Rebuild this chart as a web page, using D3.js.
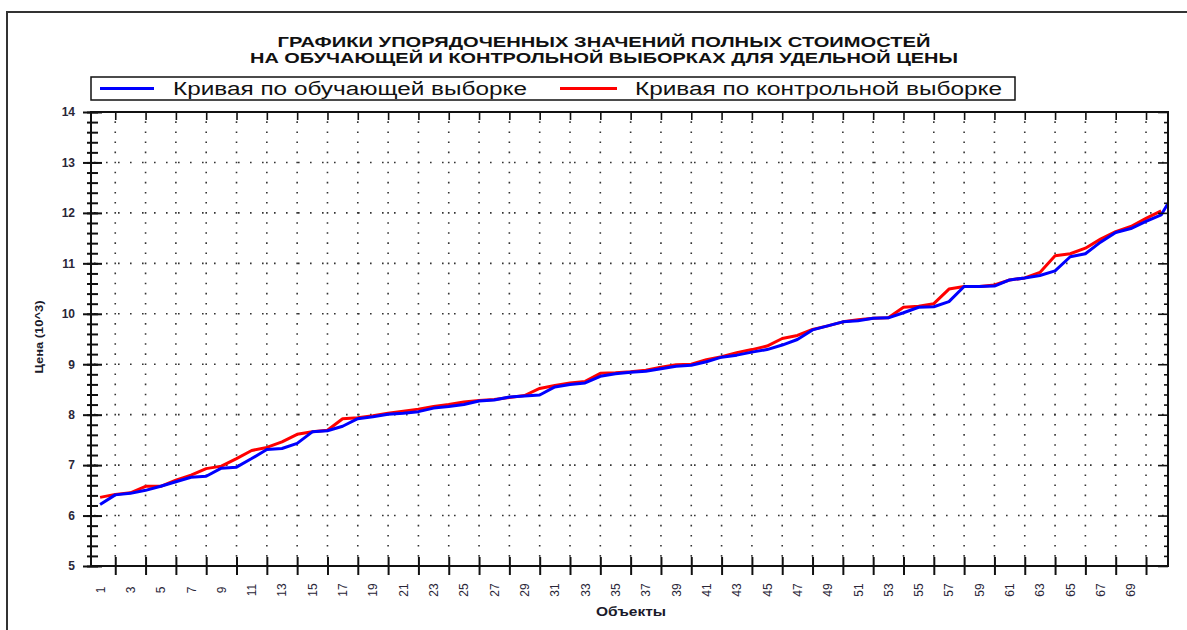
<!DOCTYPE html>
<html>
<head>
<meta charset="utf-8">
<script src="https://cdn.jsdelivr.net/npm/d3@7"></script>
<style>
  html, body { margin: 0; padding: 0; background: #fff; }
  svg { display: block; }
</style>
</head>
<body>
<svg id="chart" width="1187" height="630"></svg>
<script>
// Sorted full-cost values (thousands) for the training and control samples
const trainValues = [
  6.22, 6.41, 6.44, 6.50, 6.58, 6.67, 6.76, 6.78, 6.94, 6.96,
  7.13, 7.31, 7.33, 7.43, 7.66, 7.68, 7.77, 7.92, 7.96, 8.01,
  8.03, 8.06, 8.13, 8.16, 8.20, 8.27, 8.29, 8.35, 8.37, 8.39,
  8.55, 8.60, 8.63, 8.76, 8.81, 8.84, 8.86, 8.91, 8.96, 8.98,
  9.05, 9.14, 9.18, 9.24, 9.29, 9.38, 9.49, 9.68, 9.76, 9.84,
  9.86, 9.91, 9.92, 10.02, 10.13, 10.14, 10.24, 10.54, 10.54, 10.55,
  10.67, 10.71, 10.76, 10.85, 11.13, 11.19, 11.42, 11.61, 11.69, 11.83,
  11.96, 12.47
];
const controlValues = [
  6.36, 6.42, 6.45, 6.58, 6.58, 6.70, 6.80, 6.93, 6.98, 7.13,
  7.29, 7.35, 7.46, 7.61, 7.66, 7.69, 7.92, 7.94, 7.98, 8.03,
  8.07, 8.11, 8.16, 8.20, 8.25, 8.28, 8.30, 8.34, 8.38, 8.52,
  8.58, 8.63, 8.66, 8.82, 8.83, 8.85, 8.88, 8.94, 8.99, 9.00,
  9.09, 9.15, 9.23, 9.29, 9.36, 9.51, 9.57, 9.69, 9.76, 9.84,
  9.88, 9.91, 9.92, 10.13, 10.15, 10.20, 10.49, 10.54, 10.54, 10.57,
  10.67, 10.71, 10.82, 11.15, 11.19, 11.30, 11.48, 11.63, 11.73, 11.89,
  12.04
];
const xTickLabels = ["1","3","5","7","9","11","13","15","17","19","21","23","25","27","29",
  "31","33","35","37","39","41","43","45","47","49","51","53","55","57","59",
  "61","63","65","67","69"];
const xTickMarks = [2,4,6,8,10,12,14,16,18,20,22,24,26,28,30,32,34,36,38,40,
  42,44,46,48,50,52,54,56,58,60,62,64,66,68,70];
const yMajorTicks = [5,6,7,8,9,10,11,12,13,14];
const titleLines = [
  "ГРАФИКИ УПОРЯДОЧЕННЫХ ЗНАЧЕНИЙ ПОЛНЫХ СТОИМОСТЕЙ",
  "НА ОБУЧАЮЩЕЙ И КОНТРОЛЬНОЙ ВЫБОРКАХ ДЛЯ УДЕЛЬНОЙ ЦЕНЫ"
];
const seriesNames = ["Кривая по обучающей выборке", "Кривая по контрольной выборке"];
const seriesColors = ["#0000ff", "#ff0000"];
const xTitle = "Объекты";
const yTitle = "Цена (10^3)";

const svg = d3.select("#chart");
const plotLeft = 91, plotRight = 1168, plotTop = 112, plotBottom = 566;

const x = d3.scaleLinear().domain([0.4, 71.45]).range([plotLeft, plotRight]);
const y = d3.scaleLinear().domain([5, 14]).range([plotBottom, plotTop]);
const yMinor = d3.range(5, 14.001, 0.2).map(v => +v.toFixed(1));
const minorStep = y(5) - y(5.2);

// outer frame
svg.append("path").attr("d", "M7,630V12H1187")
  .attr("fill", "none").attr("stroke", "#333").attr("stroke-width", 2);

// title
svg.selectAll("text.title").data(titleLines).join("text")
  .attr("class", "title")
  .attr("x", 604).attr("y", (d, i) => 47 + i * 16)
  .attr("text-anchor", "middle")
  .attr("textLength", (d, i) => i === 0 ? 653 : 708)
  .attr("lengthAdjust", "spacingAndGlyphs")
  .style("font", "bold 14px 'Liberation Sans', Arial, sans-serif")
  .attr("fill", "#111")
  .text(d => d);

// legend
const legend = svg.append("g");
legend.append("rect").attr("x", 91).attr("y", 77).attr("width", 924).attr("height", 23)
  .attr("fill", "#fff").attr("stroke", "#111").attr("stroke-width", 1.5);
const legendItems = [
  { name: seriesNames[0], color: seriesColors[0], x0: 100, x1: 154, tx: 173, tl: 354 },
  { name: seriesNames[1], color: seriesColors[1], x0: 560, x1: 617, tx: 635, tl: 367 }
];
legendItems.forEach(it => {
  legend.append("line").attr("x1", it.x0).attr("x2", it.x1).attr("y1", 88.5).attr("y2", 88.5)
    .attr("stroke", it.color).attr("stroke-width", 3);
  legend.append("text").attr("x", it.tx).attr("y", 95)
    .attr("textLength", it.tl).attr("lengthAdjust", "spacingAndGlyphs")
    .style("font", "18px 'Liberation Sans', Arial, sans-serif").attr("fill", "#111")
    .text(it.name);
});

// dotted grid
const grid = svg.append("g").attr("stroke", "#333").attr("stroke-width", 1.6).attr("fill", "none");
grid.selectAll("line.v").data(xTickMarks).join("line")
  .attr("x1", d => x(d)).attr("x2", d => x(d))
  .attr("y1", plotBottom).attr("y2", plotTop)
  .attr("stroke-dasharray", `1.6 ${minorStep - 1.6}`)
  .attr("stroke-dashoffset", 0.8);
grid.selectAll("line.h").data(yMajorTicks.filter(v => v > 5 && v < 14)).join("line")
  .attr("x1", plotLeft + 3).attr("x2", plotRight)
  .attr("y1", d => y(d)).attr("y2", d => y(d))
  .attr("stroke-dasharray", "1.6 10.4");

// series
svg.append("clipPath").attr("id", "plot-clip")
  .append("rect").attr("x", plotLeft).attr("y", plotTop)
  .attr("width", plotRight - plotLeft).attr("height", plotBottom - plotTop);
const line = d3.line().x((d, i) => x(i + 1)).y(d => y(d));
const lines = svg.append("g").attr("clip-path", "url(#plot-clip)");
lines.append("path").datum(controlValues).attr("d", line)
  .attr("fill", "none").attr("stroke", seriesColors[1]).attr("stroke-width", 3).attr("stroke-linejoin", "round");
lines.append("path").datum(trainValues).attr("d", line)
  .attr("fill", "none").attr("stroke", seriesColors[0]).attr("stroke-width", 3).attr("stroke-linejoin", "round");

// left axis: major ticks with labels, minor ticks, all crossing the axis line
const axisLeftMajor = svg.append("g").attr("transform", `translate(${plotLeft},0)`)
  .call(d3.axisLeft(y).tickValues(yMajorTicks).tickSize(8).tickPadding(8).tickFormat(d3.format("d")));
axisLeftMajor.selectAll(".tick line").attr("x2", -8).attr("x1", 11).attr("stroke", "#111").attr("stroke-width", 2);
axisLeftMajor.selectAll(".tick text")
  .style("font", "bold 12px 'Liberation Sans', Arial, sans-serif").attr("fill", "#2a2638");
axisLeftMajor.select(".domain").remove();
const axisLeftMinor = svg.append("g").attr("transform", `translate(${plotLeft},0)`)
  .call(d3.axisLeft(y).tickValues(yMinor).tickSize(4).tickFormat(""));
axisLeftMinor.selectAll(".tick line").attr("x1", 7).attr("stroke", "#111").attr("stroke-width", 2);
axisLeftMinor.select(".domain").remove();

// right axis: inner ticks only
const axisRight = svg.append("g").attr("transform", `translate(${plotRight},0)`)
  .call(d3.axisLeft(y).tickValues(yMinor).tickSize(0).tickFormat(""));
axisRight.selectAll(".tick line")
  .attr("x2", d => (Math.abs(d - Math.round(d)) < 1e-6 ? -10 : -4))
  .attr("stroke", "#111").attr("stroke-width", 1.6);
axisRight.select(".domain").remove();

// top axis: short inner ticks
const axisTop = svg.append("g").attr("transform", `translate(0,${plotTop})`)
  .call(d3.axisTop(x).tickValues(xTickMarks).tickSize(0).tickFormat(""));
axisTop.selectAll(".tick line").attr("y2", 8).attr("stroke", "#111").attr("stroke-width", 1.6);
axisTop.select(".domain").remove();

// bottom axis: crossing ticks at even objects, rotated labels at odd objects
const axisBottomTicks = svg.append("g").attr("transform", `translate(0,${plotBottom})`)
  .call(d3.axisBottom(x).tickValues(xTickMarks).tickSize(9).tickFormat(""));
axisBottomTicks.selectAll(".tick line").attr("y1", -9).attr("stroke", "#111").attr("stroke-width", 2);
axisBottomTicks.select(".domain").remove();
const axisBottomLabels = svg.append("g").attr("transform", `translate(0,${plotBottom})`)
  .call(d3.axisBottom(x).tickValues(xTickLabels.map(Number)).tickSize(0).tickFormat(d3.format("d")));
axisBottomLabels.select(".domain").remove();
axisBottomLabels.selectAll(".tick text")
  .attr("y", 0).attr("dy", null)
  .attr("transform", "translate(0,24) rotate(-90)")
  .attr("text-anchor", "middle").attr("dominant-baseline", "central")
  .style("font", "12px 'Liberation Sans', Arial, sans-serif").attr("fill", "#2a2638");

// plot frame
svg.append("rect").attr("x", plotLeft).attr("y", plotTop)
  .attr("width", plotRight - plotLeft).attr("height", plotBottom - plotTop)
  .attr("fill", "none").attr("stroke", "#111").attr("stroke-width", 2);

// axis titles
svg.append("text").attr("x", 631).attr("y", 616).attr("text-anchor", "middle")
  .attr("textLength", 70).attr("lengthAdjust", "spacingAndGlyphs")
  .style("font", "bold 13px 'Liberation Sans', Arial, sans-serif").attr("fill", "#1a1a2a")
  .text(xTitle);
svg.append("text").attr("transform", "translate(39,337) rotate(-90)")
  .attr("text-anchor", "middle").attr("dominant-baseline", "central")
  .attr("textLength", 73).attr("lengthAdjust", "spacingAndGlyphs")
  .style("font", "bold 11px 'Liberation Sans', Arial, sans-serif").attr("fill", "#1a1a2a")
  .text(yTitle);
</script>
</body>
</html>
